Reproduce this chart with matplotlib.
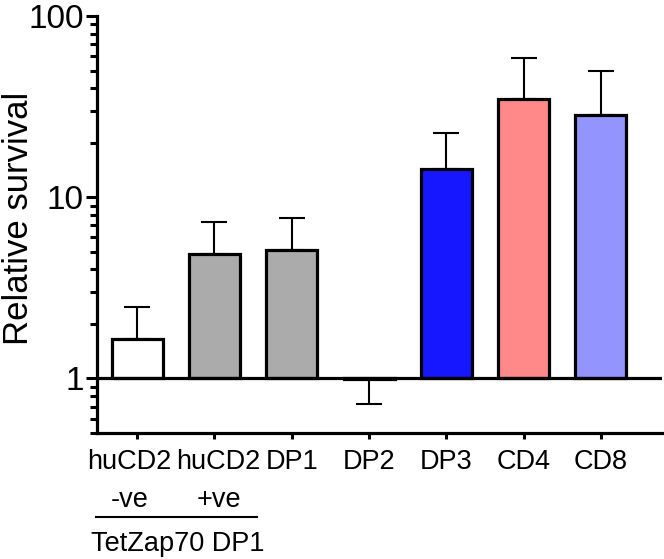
import matplotlib
matplotlib.use("Agg")
import matplotlib.pyplot as plt
import matplotlib.ticker as mticker
import matplotlib.transforms as mtransforms
import numpy as np

plt.rcParams['font.family'] = ['Liberation Sans', 'DejaVu Sans']

categories = ["huCD2\n-ve", "huCD2\n+ve", "DP1", "DP2", "DP3", "CD4", "CD8"]
values = [1.66, 4.88, 5.14, 0.99, 14.4, 34.9, 28.5]
err_tips = [2.49, 7.33, 7.71, 0.72, 22.7, 58.7, 49.8]
bar_colors = ["#ffffff", "#ababab", "#ababab", "#ffffff", "#1717ff", "#ff8888", "#9494ff"]
y_ticks = [1, 10, 100]
y_tick_labels = ["1", "10", "100"]
group_label = "TetZap70 DP1"

fig = plt.figure(figsize=(6.64, 5.59), dpi=100)
ax = fig.add_axes([97/664, 1-433/559, (662-97)/664, (433-16)/559])

x = np.arange(len(categories))
vals = np.array(values)
tips = np.array(err_tips)
heights = vals - 1.0
ax.bar(x, heights, bottom=1.0, width=0.66, color=bar_colors,
       edgecolor="black", linewidth=2.3, zorder=3)

up = np.where(tips >= vals, tips - vals, 0)
down = np.where(tips < vals, vals - tips, 0)
ax.errorbar(x, vals, yerr=[down, up], fmt="none", ecolor="black",
            elinewidth=1.5, capsize=9.5, capthick=1.5, zorder=2)

ax.set_yscale("log")
ax.set_ylim(0.5, 100)
ax.set_xlim(-0.52, 6.79)
ax.axhline(1.0, color="black", linewidth=2.3, zorder=4)

ax.set_yticks(y_ticks)
ax.set_yticklabels(y_tick_labels, fontsize=24)
ax.yaxis.set_minor_locator(mticker.LogLocator(base=10, subs=np.arange(2, 10)))
ax.yaxis.set_minor_formatter(mticker.NullFormatter())
ax.set_xticks(x)
ax.set_xticklabels(categories, fontsize=19.5, linespacing=1.6)

ax.tick_params(axis="y", which="major", length=8, width=2.2, pad=1.5)
ax.tick_params(axis="y", which="minor", length=5, width=2.2)
ax.tick_params(axis="x", which="major", length=4, width=2.2, pad=7.5)

# nudge the two crowded huCD2 labels apart, as in the reference
shifts = [-8, 4, 0, 0, 0, 0, 0]
for lab, dx in zip(ax.get_xticklabels(), shifts):
    if dx:
        lab.set_transform(lab.get_transform() +
                          mtransforms.ScaledTranslation(dx / 100, 0, fig.dpi_scale_trans))

for s in ["top", "right"]:
    ax.spines[s].set_visible(False)
for s in ["left", "bottom"]:
    ax.spines[s].set_linewidth(2.3)

fig.text(19/664, 1-218/559, "Relative survival", rotation=90, ha="center",
         va="center", fontsize=25)

trans = ax.get_xaxis_transform()
ax.plot([-0.53, 1.55], [-0.2014, -0.2014], color="black", linewidth=1.5,
        transform=trans, clip_on=False)
ax.text(0.53, -0.266, group_label, transform=trans, ha="center", va="center",
        fontsize=19.5)

fig.savefig("out.png", dpi=100)
